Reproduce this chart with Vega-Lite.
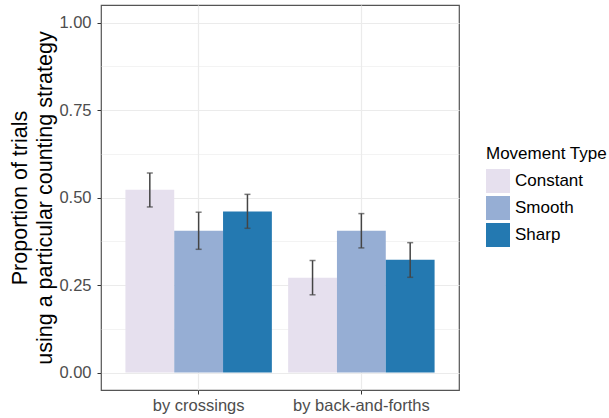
{
  "$schema": "https://vega.github.io/schema/vega-lite/v6.json",
  "width": 358,
  "height": 385,
  "autosize": "none",
  "padding": {"left": 101, "top": 5, "right": 150, "bottom": 28},
  "background": "white",
  "config": {
    "font": "Liberation Sans",
    "view": {"stroke": "#555555", "strokeWidth": 1.2}
  },
  "data": {
    "values": [
      {"strategy": "by crossings", "type": "Constant", "prop": 0.522, "lo": 0.473, "hi": 0.570},
      {"strategy": "by crossings", "type": "Smooth", "prop": 0.405, "lo": 0.352, "hi": 0.458},
      {"strategy": "by crossings", "type": "Sharp", "prop": 0.460, "lo": 0.412, "hi": 0.509},
      {"strategy": "by back-and-forths", "type": "Constant", "prop": 0.271, "lo": 0.222, "hi": 0.320},
      {"strategy": "by back-and-forths", "type": "Smooth", "prop": 0.405, "lo": 0.356, "hi": 0.454},
      {"strategy": "by back-and-forths", "type": "Sharp", "prop": 0.322, "lo": 0.272, "hi": 0.371}
    ]
  },
  "encoding": {
    "x": {
      "field": "strategy",
      "type": "nominal",
      "sort": ["by crossings", "by back-and-forths"],
      "scale": {"paddingInner": 0.1, "paddingOuter": 0.15},
      "axis": {
        "title": null,
        "labelAngle": 0,
        "labelFontSize": 16.5,
        "labelColor": "#4d4d4d",
        "labelPadding": 3,
        "tickColor": "#333333",
        "tickSize": 4,
        "domain": false,
        "grid": true,
        "gridColor": "#ebebeb",
        "gridWidth": 1.2
      }
    },
    "xOffset": {
      "field": "type",
      "type": "nominal",
      "sort": ["Constant", "Smooth", "Sharp"],
      "scale": {"paddingInner": 0, "paddingOuter": 0}
    }
  },
  "layer": [
    {
      "mark": {"type": "bar"},
      "encoding": {
        "y": {
          "field": "prop",
          "type": "quantitative",
          "scale": {"domain": [-0.05, 1.05], "nice": false, "zero": false},
          "axis": {
            "title": ["Proportion of trials", "using a particular counting strategy"],
            "titleFontSize": 21.5,
            "titleFontWeight": "normal",
            "titleColor": "#000000",
            "titleLineHeight": 25,
            "titlePadding": 2,
            "values": [0, 0.125, 0.25, 0.375, 0.5, 0.625, 0.75, 0.875, 1],
            "labelExpr": "abs(datum.value*4 - round(datum.value*4)) < 0.001 ? format(datum.value, '.2f') : ''",
            "labelFontSize": 16.5,
            "labelColor": "#4d4d4d",
            "labelPadding": 6,
            "tickSize": 4,
            "tickColor": "#333333",
            "tickOpacity": {"condition": {"test": "abs(datum.value*4 - round(datum.value*4)) < 0.001", "value": 1}, "value": 0},
            "domain": false,
            "grid": true,
            "gridColor": "#ebebeb",
            "gridWidth": {"condition": {"test": "abs(datum.value*4 - round(datum.value*4)) < 0.001", "value": 1.2}, "value": 0.6}
          }
        },
        "color": {
          "field": "type",
          "type": "nominal",
          "sort": ["Constant", "Smooth", "Sharp"],
          "scale": {"domain": ["Constant", "Smooth", "Sharp"], "range": ["#e6e0ee", "#96aed4", "#2479b1"]},
          "legend": {
            "title": "Movement Type",
            "orient": "none",
            "legendX": 385,
            "legendY": 141,
            "titleFontSize": 17,
            "titleFontWeight": "normal",
            "titleColor": "#000000",
            "titlePadding": 6,
            "labelFontSize": 17,
            "labelColor": "#000000",
            "labelOffset": 5,
            "symbolType": "square",
            "symbolSize": 576,
            "symbolStrokeWidth": 0,
            "symbolOpacity": 1,
            "rowPadding": 3
          }
        }
      }
    },
    {
      "mark": {"type": "rule", "color": "#444444", "strokeWidth": 1.5},
      "encoding": {
        "y": {"field": "lo", "type": "quantitative"},
        "y2": {"field": "hi"}
      }
    },
    {
      "mark": {"type": "tick", "color": "#444444", "thickness": 1.5, "size": 6},
      "encoding": {
        "y": {"field": "lo", "type": "quantitative"}
      }
    },
    {
      "mark": {"type": "tick", "color": "#444444", "thickness": 1.5, "size": 6},
      "encoding": {
        "y": {"field": "hi", "type": "quantitative"}
      }
    }
  ]
}
